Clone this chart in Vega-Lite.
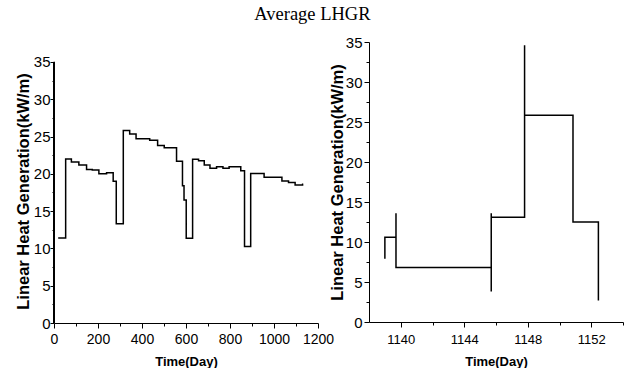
{
  "$schema": "https://vega.github.io/schema/vega-lite/v6.json",
  "background": "white",
  "padding": {"left": 15, "top": 4, "right": 2, "bottom": 0},
  "title": {"text": "Average LHGR", "font": "Liberation Serif", "fontSize": 18.5, "fontWeight": "normal", "color": "black", "anchor": "middle", "offset": 12, "dx": -7},
  "spacing": -5,
  "config": {
    "view": {"stroke": null},
    "axis": {"grid": false, "domainColor": "black", "tickColor": "black", "labelColor": "black", "titleColor": "black", "labelFont": "Liberation Sans", "titleFont": "Liberation Sans", "titleFontWeight": "bold", "domainWidth": 1, "tickWidth": 1, "labelOverlap": false, "labelFlush": false}
  },
  "hconcat": [
    {
      "width": 264,
      "height": 281,
      "data": {"values": [
        {"t": 19, "v": 11.4}, {"t": 53, "v": 22.0}, {"t": 79, "v": 21.6}, {"t": 113, "v": 21.2}, {"t": 148, "v": 20.6},
        {"t": 174, "v": 20.5}, {"t": 204, "v": 20.0}, {"t": 239, "v": 20.15}, {"t": 269, "v": 19.0}, {"t": 283, "v": 13.3},
        {"t": 315, "v": 25.8}, {"t": 344, "v": 25.35}, {"t": 373, "v": 24.7}, {"t": 435, "v": 24.5}, {"t": 471, "v": 23.8},
        {"t": 501, "v": 23.5}, {"t": 557, "v": 21.7}, {"t": 584, "v": 18.4}, {"t": 591, "v": 16.5}, {"t": 601, "v": 11.35},
        {"t": 630, "v": 21.95}, {"t": 657, "v": 21.75}, {"t": 683, "v": 21.2}, {"t": 709, "v": 20.75}, {"t": 739, "v": 20.95},
        {"t": 768, "v": 20.75}, {"t": 796, "v": 20.95}, {"t": 849, "v": 20.4}, {"t": 866, "v": 10.25}, {"t": 894, "v": 20.05},
        {"t": 955, "v": 19.55}, {"t": 1036, "v": 19.05}, {"t": 1066, "v": 18.85}, {"t": 1096, "v": 18.5}, {"t": 1130, "v": 18.6},
        {"t": 1133, "v": 18.6}
      ]},
      "encoding": {
        "x": {"field": "t", "type": "quantitative", "scale": {"domain": [0, 1200], "nice": false, "zero": false},
          "axis": {"title": "Time(Day)", "titleFontSize": 13, "titlePadding": 9, "labelFontSize": 14, "labelPadding": 4,
            "values": [0,100,200,300,400,500,600,700,800,900,1000,1100,1200], "format": "d",
            "labelExpr": "datum.value % 200 === 0 ? datum.label : ''",
            "tickSize": {"condition": {"test": "datum.value % 200 === 0", "value": 5}, "value": 3}}},
        "y": {"field": "v", "type": "quantitative", "scale": {"domain": [0, 37.68], "nice": false},
          "axis": {"title": "Linear Heat Generation(kW/m)", "titleFontSize": 16.5, "titlePadding": 2, "labelFontSize": 15, "labelPadding": 0,
            "domain": false, "titleY": 149,
            "values": [0,2.5,5,7.5,10,12.5,15,17.5,20,22.5,25,27.5,30,32.5,35],
            "labelExpr": "datum.value % 5 === 0 ? datum.label : ''",
            "tickSize": {"condition": {"test": "datum.value % 5 === 0", "value": 4}, "value": 2}}}
      },
      "layer": [
        {"mark": {"type": "line", "interpolate": "step-after", "color": "black", "strokeWidth": 1.5}},
        {"mark": {"type": "rule", "color": "black", "strokeWidth": 1},
          "encoding": {"x": {"datum": 0}, "y": {"datum": 0}, "y2": {"datum": 35}}}
      ]
    },
    {
      "width": 254,
      "height": 280,
      "data": {"values": [
        {"i": 1, "t": 1139.0, "v": 7.9}, {"i": 2, "t": 1139.0, "v": 10.6}, {"i": 3, "t": 1139.7, "v": 10.6},
        {"i": 4, "t": 1139.7, "v": 13.6}, {"i": 5, "t": 1139.7, "v": 6.8}, {"i": 6, "t": 1145.7, "v": 6.8},
        {"i": 7, "t": 1145.7, "v": 3.8}, {"i": 8, "t": 1145.7, "v": 13.6}, {"i": 9, "t": 1145.7, "v": 13.1},
        {"i": 10, "t": 1147.8, "v": 13.1}, {"i": 11, "t": 1147.8, "v": 34.6}, {"i": 12, "t": 1147.8, "v": 25.85},
        {"i": 13, "t": 1150.85, "v": 25.85}, {"i": 14, "t": 1150.85, "v": 12.5}, {"i": 15, "t": 1152.45, "v": 12.5},
        {"i": 16, "t": 1152.45, "v": 2.7}
      ]},
      "mark": {"type": "line", "color": "black", "strokeWidth": 1.5},
      "encoding": {
        "order": {"field": "i", "type": "quantitative"},
        "x": {"field": "t", "type": "quantitative", "scale": {"domain": [1138, 1154], "nice": false, "zero": false},
          "axis": {"title": "Time(Day)", "titleFontSize": 13, "titlePadding": 9, "labelFontSize": 13, "labelPadding": 6,
            "values": [1140,1142,1144,1146,1148,1150,1152,1154], "format": "d",
            "labelExpr": "datum.value % 4 === 0 ? datum.label : ''",
            "tickSize": {"condition": {"test": "datum.value % 4 === 0", "value": 5}, "value": 3}}},
        "y": {"field": "v", "type": "quantitative", "scale": {"domain": [0, 35], "nice": false},
          "axis": {"title": "Linear Heat Generation(kW/m)", "titleFontSize": 16.5, "titlePadding": 0, "labelFontSize": 15, "labelPadding": 2,
            "values": [0,2.5,5,7.5,10,12.5,15,17.5,20,22.5,25,27.5,30,32.5,35],
            "labelExpr": "datum.value % 5 === 0 ? datum.label : ''",
            "tickSize": {"condition": {"test": "datum.value % 5 === 0", "value": 5}, "value": 3}}}
      }
    }
  ]
}
